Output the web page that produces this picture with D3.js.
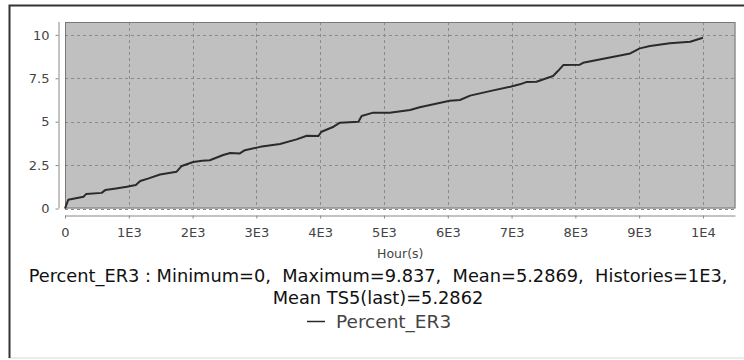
<!DOCTYPE html>
<html>
<head>
<meta charset="utf-8">
<script src="https://cdn.jsdelivr.net/npm/d3@7"></script>
<style>
  body { margin: 0; background: #fff; }
  svg { display: block; font-family: "DejaVu Sans", sans-serif; }
</style>
</head>
<body>
<div id="chart"></div>
<script>
// data
const hours = [0, 50, 150, 290, 330, 575, 630, 800, 970, 1110, 1180, 1300, 1490, 1750, 1830,
  2010, 2150, 2270, 2480, 2590, 2740, 2820, 3060, 3370, 3630, 3790, 3970, 4020, 4210, 4310,
  4600, 4650, 4830, 5090, 5410, 5560, 6030, 6190, 6350, 6660, 6980, 7130, 7230, 7390, 7650,
  7730, 7810, 8070, 8120, 8540, 8860, 9010, 9170, 9480, 9800, 10000];
const percent = [0, 0.5, 0.58, 0.68, 0.83, 0.9, 1.06, 1.15, 1.25, 1.35, 1.58, 1.72, 1.96, 2.12, 2.45,
  2.68, 2.75, 2.78, 3.08, 3.2, 3.17, 3.36, 3.55, 3.71, 3.98, 4.19, 4.17, 4.42, 4.71, 4.94,
  5.0, 5.33, 5.52, 5.52, 5.67, 5.83, 6.21, 6.25, 6.5, 6.76, 7.01, 7.15, 7.28, 7.3, 7.63,
  7.93, 8.26, 8.28, 8.39, 8.7, 8.93, 9.22, 9.36, 9.51, 9.6, 9.837];
const xTicks = [0, 1000, 2000, 3000, 4000, 5000, 6000, 7000, 8000, 9000, 10000];
const xTickLabels = ["0", "1E3", "2E3", "3E3", "4E3", "5E3", "6E3", "7E3", "8E3", "9E3", "1E4"];
const yTicks = [0, 2.5, 5, 7.5, 10];
const statsLines = [
  "Percent_ER3 : Minimum=0,  Maximum=9.837,  Mean=5.2869,  Histories=1E3,",
  "Mean TS5(last)=5.2862"
];
const seriesName = "Percent_ER3";

const W = 744, H = 360;
const plot = { left: 65, top: 22, right: 735.5, bottom: 208.5 };

const svg = d3.select("#chart").append("svg")
  .attr("width", W).attr("height", H);

// chart border
svg.append("rect")
  .attr("x", 9.5).attr("y", 5.5).attr("width", 740).attr("height", 352.5)
  .attr("fill", "#fff").attr("stroke", "#d8d8d8").attr("stroke-width", 1);
svg.append("path")
  .attr("d", `M9.5,358 V5.5 H744`)
  .attr("fill", "none").attr("stroke", "#333").attr("stroke-width", 2);

const data = hours.map((h, i) => ({ h, v: percent[i] }));

const x = d3.scaleLinear().domain([0, 10510]).range([plot.left, plot.right]);
const y = d3.scaleLinear().domain([0, 10.74]).range([plot.bottom, plot.top]);

// plot background
svg.append("rect")
  .attr("x", plot.left).attr("y", plot.top)
  .attr("width", plot.right - plot.left).attr("height", plot.bottom - plot.top)
  .attr("fill", "#c0c0c0");

// grid
svg.append("g").selectAll("line").data(xTicks).join("line")
  .attr("x1", d => Math.round(x(d)) + 0.5).attr("x2", d => Math.round(x(d)) + 0.5)
  .attr("y1", plot.top).attr("y2", plot.bottom)
  .attr("stroke", "#8a8a8a").attr("stroke-dasharray", "3,3");
svg.append("g").selectAll("line").data(yTicks).join("line")
  .attr("y1", d => Math.round(y(d)) + 0.5).attr("y2", d => Math.round(y(d)) + 0.5)
  .attr("x1", plot.left).attr("x2", plot.right)
  .attr("stroke", "#8a8a8a").attr("stroke-dasharray", "3,3");

// plot outline
svg.append("rect")
  .attr("x", plot.left + 0.5).attr("y", plot.top + 0.5)
  .attr("width", plot.right - plot.left - 1).attr("height", plot.bottom - plot.top - 1)
  .attr("fill", "none").attr("stroke", "#777");

// series
const line = d3.line().x(d => x(d.h)).y(d => y(d.v));
svg.append("path")
  .datum(data)
  .attr("d", line)
  .attr("fill", "none")
  .attr("stroke", "#2a2a2a")
  .attr("stroke-width", 2)
  .attr("stroke-linejoin", "round");

// axes
const xAxis = svg.append("g")
  .attr("transform", `translate(0,${plot.bottom + 7})`)
  .call(d3.axisBottom(x).tickValues(xTicks).tickFormat((d, i) => xTickLabels[i])
    .tickSize(3).tickPadding(9).tickSizeOuter(0));
xAxis.select(".domain").attr("d", `M${plot.left},0.5H${plot.right}`);

const yAxis = svg.append("g")
  .attr("transform", `translate(${plot.left - 6.5},0)`)
  .call(d3.axisLeft(y).tickValues(yTicks).tickFormat(d3.format("~g"))
    .tickSize(3).tickPadding(6).tickSizeOuter(0));
yAxis.select(".domain").attr("d", `M0.5,${plot.top}V${plot.bottom}`);

svg.selectAll(".domain").attr("stroke", "#888");
svg.selectAll(".tick line").attr("stroke", "#888");
svg.selectAll(".tick text")
  .attr("fill", "#444")
  .attr("font-size", 13)
  .attr("font-family", "DejaVu Sans");

// axis label
svg.append("text")
  .attr("x", (plot.left + plot.right) / 2).attr("y", 258)
  .attr("text-anchor", "middle")
  .attr("font-size", 12.5).attr("fill", "#444")
  .text("Hour(s)");

// stats subtitle
svg.append("g").selectAll("text").data(statsLines).join("text")
  .attr("x", 378).attr("y", (d, i) => 282 + i * 22)
  .attr("text-anchor", "middle")
  .style("white-space", "pre")
  .attr("font-size", 17.8).attr("fill", "#111")
  .text(d => d);

// legend
const legend = svg.append("g").attr("transform", "translate(307,321)");
legend.append("line")
  .attr("x1", 0).attr("x2", 18).attr("y1", 0.5).attr("y2", 0.5)
  .attr("stroke", "#2a2a2a").attr("stroke-width", 1.5);
legend.append("text")
  .attr("x", 29).attr("y", 6.5)
  .attr("font-size", 18.5).attr("fill", "#444")
  .text(seriesName);
</script>
</body>
</html>
